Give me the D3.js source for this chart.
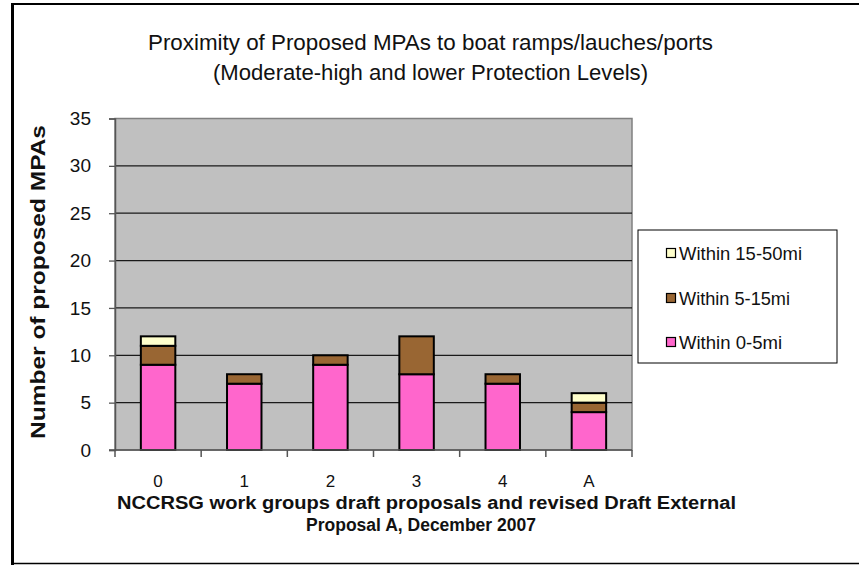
<!DOCTYPE html>
<html>
<head>
<meta charset="utf-8">
<script src="https://cdn.jsdelivr.net/npm/d3@7/dist/d3.min.js"></script>
<style>
  html, body { margin: 0; padding: 0; background: #fff; }
  svg { display: block; font-family: "Liberation Sans", Arial, sans-serif; }
</style>
</head>
<body>
<svg id="chart" width="859" height="565"></svg>
<script>
// Proposal groups along the x axis
const categories = ["0", "1", "2", "3", "4", "A"];
// Number of proposed MPAs by distance band (stacked bottom to top)
const within0to5 = [9, 7, 9, 8, 7, 4];
const within5to15 = [2, 1, 1, 4, 1, 1];
const within15to50 = [1, 0, 0, 0, 0, 1];
const seriesNames = ["Within 0-5mi", "Within 5-15mi", "Within 15-50mi"];
const seriesColors = ["#FF66CC", "#996633", "#FFFFCC"];
const yTicks = [0, 5, 10, 15, 20, 25, 30, 35];

const svg = d3.select("#chart");

// Outer frame of the chart object
svg.append("line").attr("x1", 12.5).attr("x2", 12.5).attr("y1", 3).attr("y2", 565)
  .attr("stroke", "#000").attr("stroke-width", 3);
svg.append("line").attr("x1", 11).attr("x2", 859).attr("y1", 4).attr("y2", 4)
  .attr("stroke", "#000").attr("stroke-width", 2);
svg.append("line").attr("x1", 11).attr("x2", 859).attr("y1", 563.5).attr("y2", 563.5)
  .attr("stroke", "#000").attr("stroke-width", 1.5);

const plot = { left: 115, right: 632, top: 118.5, bottom: 450 };

const x = d3.scaleBand().domain(categories)
  .range([plot.left, plot.right]).paddingInner(0.6).paddingOuter(0.3);
const y = d3.scaleLinear().domain([0, 35]).range([plot.bottom, plot.top]);

// Plot area background
svg.append("rect")
  .attr("x", plot.left).attr("y", plot.top)
  .attr("width", plot.right - plot.left).attr("height", plot.bottom - plot.top)
  .attr("fill", "#C0C0C0").attr("stroke", "#808080").attr("stroke-width", 1.5);

// Horizontal gridlines
svg.append("g").selectAll("line")
  .data(yTicks.filter(t => t > 0 && t < 35))
  .join("line")
  .attr("x1", plot.left).attr("x2", plot.right)
  .attr("y1", d => y(d)).attr("y2", d => y(d))
  .attr("stroke", "#1a1a1a").attr("stroke-width", 1.3);

// Stacked bars
const rows = categories.map((c, i) => ({
  cat: c, s0: within0to5[i], s1: within5to15[i], s2: within15to50[i]
}));
const stack = d3.stack().keys(["s0", "s1", "s2"]);
const layers = stack(rows);

svg.append("g").selectAll("g")
  .data(layers)
  .join("g")
  .attr("fill", (d, i) => seriesColors[i])
  .selectAll("rect")
  .data(d => d.filter(p => p[1] - p[0] > 0))
  .join("rect")
  .attr("x", d => x(d.data.cat))
  .attr("width", x.bandwidth())
  .attr("y", d => y(d[1]))
  .attr("height", d => y(d[0]) - y(d[1]))
  .attr("stroke", "#000").attr("stroke-width", 2);

// Y axis
const yAxis = svg.append("g")
  .attr("transform", `translate(${plot.left},0)`)
  .call(d3.axisLeft(y).tickValues(yTicks).tickSize(6).tickPadding(18));
yAxis.select(".domain").attr("stroke", "#555").attr("stroke-width", 1.5);
yAxis.selectAll(".tick line").attr("stroke", "#555").attr("stroke-width", 1.3);
yAxis.selectAll("text")
  .attr("font-size", 19).attr("fill", "#111")
  .attr("font-family", "Liberation Sans, Arial, sans-serif");

// X axis: ticks sit on category boundaries
const xAxisG = svg.append("g").attr("transform", `translate(0,${plot.bottom})`);
xAxisG.append("line").attr("x1", plot.left - 6).attr("x2", plot.right)
  .attr("stroke", "#555").attr("stroke-width", 1.5);
const boundaries = d3.range(categories.length + 1)
  .map(i => plot.left + i * (plot.right - plot.left) / categories.length);
xAxisG.selectAll("line.tk").data(boundaries).join("line").attr("class", "tk")
  .attr("x1", d => d).attr("x2", d => d).attr("y1", 0).attr("y2", 7)
  .attr("stroke", "#555").attr("stroke-width", 1.5);
xAxisG.selectAll("text").data(categories).join("text")
  .attr("x", d => x(d) + x.bandwidth() / 2)
  .attr("y", 37)
  .attr("text-anchor", "middle")
  .attr("font-size", 17).attr("fill", "#111")
  .text(d => d);

// Titles
const title = svg.append("g").attr("font-size", 22).attr("fill", "#111").attr("text-anchor", "middle");
title.append("text").attr("x", 430.5).attr("y", 50)
  .attr("textLength", 565).attr("lengthAdjust", "spacingAndGlyphs")
  .text("Proximity of Proposed MPAs to boat ramps/lauches/ports");
title.append("text").attr("x", 430.5).attr("y", 80)
  .attr("textLength", 435).attr("lengthAdjust", "spacingAndGlyphs")
  .text("(Moderate-high and lower Protection Levels)");

const xTitle = svg.append("g").attr("font-size", 18).attr("font-weight", "bold")
  .attr("fill", "#111").attr("text-anchor", "middle");
xTitle.append("text").attr("x", 426.5).attr("y", 509)
  .attr("textLength", 619).attr("lengthAdjust", "spacingAndGlyphs")
  .text("NCCRSG work groups draft proposals and revised Draft External");
xTitle.append("text").attr("x", 421).attr("y", 531)
  .attr("textLength", 230).attr("lengthAdjust", "spacingAndGlyphs")
  .text("Proposal A, December 2007");

svg.append("text")
  .attr("transform", "translate(45,282) rotate(-90)")
  .attr("text-anchor", "middle")
  .attr("font-size", 20).attr("font-weight", "bold").attr("fill", "#111")
  .attr("textLength", 314).attr("lengthAdjust", "spacingAndGlyphs")
  .text("Number of proposed MPAs");

// Legend (top entry is the top of the stack)
const legend = svg.append("g");
legend.append("rect").attr("x", 638).attr("y", 230).attr("width", 199).attr("height", 133)
  .attr("fill", "#fff").attr("stroke", "#000").attr("stroke-width", 1);
const legendRows = [2, 1, 0];
const legendY = [253, 298, 342];
const legendWidths = [123, 111, 103];
legendRows.forEach((si, r) => {
  legend.append("rect").attr("x", 666.5).attr("y", legendY[r] - 4.5)
    .attr("width", 9).attr("height", 9)
    .attr("fill", seriesColors[si]).attr("stroke", "#000").attr("stroke-width", 1.2);
  legend.append("text").attr("x", 679).attr("y", legendY[r] + 7)
    .attr("font-size", 19).attr("fill", "#111")
    .attr("textLength", legendWidths[r]).attr("lengthAdjust", "spacingAndGlyphs")
    .text(seriesNames[si]);
});
</script>
</body>
</html>
